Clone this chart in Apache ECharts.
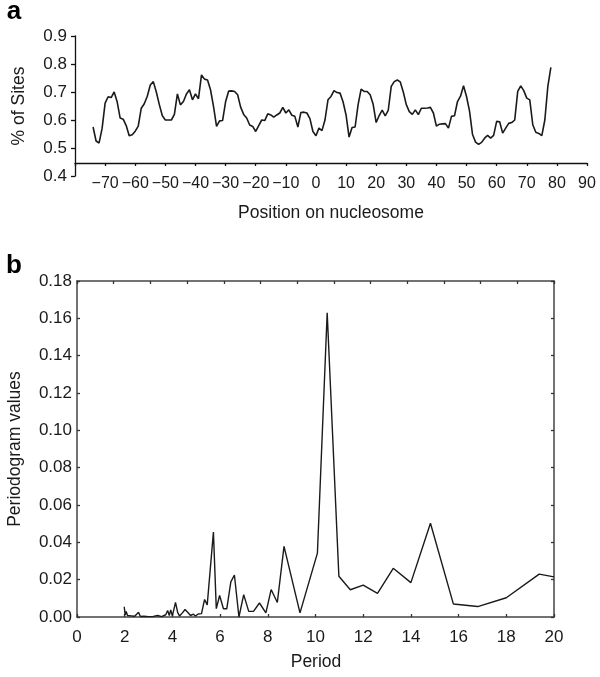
<!DOCTYPE html>
<html><head><meta charset="utf-8">
<script src="https://cdn.jsdelivr.net/npm/echarts@6/dist/echarts.min.js"></script>
<style>html,body{margin:0;padding:0;background:#fff}#c{width:600px;height:677px}</style>
</head><body><div id="c"></div>
<script>
// Panel a: position on nucleosome vs % of sites
const positions = [-74,-73,-72,-71,-70,-69,-68,-67,-66,-65,-64,-63,-62,-61,-60,-59,-58,-57,-56,-55,-54,-53,-52,-51,-50,-49,-48,-47,-46,-45,-44,-43,-42,-41,-40,-39,-38,-37,-36,-35,-34,-33,-32,-31,-30,-29,-28,-27,-26,-25,-24,-23,-22,-21,-20,-19,-18,-17,-16,-15,-14,-13,-12,-11,-10,-9,-8,-7,-6,-5,-4,-3,-2,-1,0,1,2,3,4,5,6,7,8,9,10,11,12,13,14,15,16,17,18,19,20,21,22,23,24,25,26,27,28,29,30,31,32,33,34,35,36,37,38,39,40,41,42,43,44,45,46,47,48,49,50,51,52,53,54,55,56,57,58,59,60,61,62,63,64,65,66,67,68,69,70,71,72,73,74,75,76,77,78];
const sitesPct = [0.575,0.525,0.518,0.570,0.660,0.683,0.680,0.700,0.665,0.607,0.603,0.580,0.544,0.547,0.560,0.578,0.642,0.658,0.685,0.725,0.737,0.700,0.655,0.615,0.600,0.600,0.600,0.620,0.693,0.654,0.666,0.693,0.708,0.672,0.693,0.676,0.761,0.746,0.743,0.708,0.648,0.577,0.597,0.598,0.665,0.703,0.704,0.702,0.690,0.646,0.620,0.607,0.582,0.577,0.559,0.580,0.600,0.598,0.622,0.618,0.610,0.618,0.625,0.645,0.625,0.636,0.617,0.613,0.575,0.627,0.628,0.625,0.605,0.559,0.544,0.571,0.562,0.600,0.672,0.684,0.705,0.698,0.696,0.665,0.618,0.539,0.573,0.575,0.655,0.710,0.702,0.702,0.690,0.656,0.591,0.616,0.635,0.615,0.634,0.720,0.737,0.743,0.736,0.700,0.655,0.630,0.620,0.636,0.619,0.642,0.642,0.643,0.645,0.625,0.578,0.585,0.586,0.587,0.571,0.613,0.615,0.666,0.685,0.722,0.684,0.632,0.548,0.521,0.513,0.520,0.535,0.545,0.535,0.545,0.595,0.594,0.553,0.571,0.588,0.591,0.600,0.702,0.722,0.705,0.678,0.672,0.583,0.556,0.552,0.544,0.600,0.720,0.788];

// Panel b: periodogram
const periods = [1.98,2.02,2.06,2.12,2.2,2.27,2.34,2.42,2.5,2.58,2.66,2.8,3.0,3.2,3.38,3.55,3.72,3.8,3.87,3.93,4.0,4.06,4.13,4.22,4.3,4.42,4.53,4.64,4.76,4.88,4.97,5.08,5.22,5.35,5.46,5.72,5.84,5.98,6.14,6.28,6.45,6.6,6.79,6.99,7.2,7.4,7.65,7.92,8.14,8.4,8.68,9.35,10.08,10.49,10.98,11.46,12.0,12.6,13.26,14.0,14.82,15.78,16.8,18.0,19.38,20.0];
const periodogram = [0.0055,0.001,0.003,0.0008,0.0018,0.0006,0.0015,0.0004,0.0008,0.0025,0.0003,0.0004,0.0002,0.0003,0.0008,0.0002,0.0012,0.0035,0.0008,0.0038,0.0006,0.0015,0.0078,0.0025,0.0005,0.0022,0.004,0.0025,0.0008,0.0015,0.0005,0.0016,0.0018,0.0094,0.0065,0.0455,0.0045,0.0115,0.0044,0.0044,0.0188,0.0225,0.0,0.012,0.003,0.003,0.0075,0.0022,0.0147,0.0078,0.0378,0.0022,0.0342,0.163,0.0218,0.0146,0.0171,0.0127,0.0261,0.0184,0.0502,0.007,0.0056,0.0103,0.023,0.0215];

const FONT = 'Liberation Sans, Arial, sans-serif';
const TXT = '#1a1a1a';
const chart = echarts.init(document.getElementById('c'), null, {renderer: 'canvas'});
const lab = (extra) => Object.assign({color: TXT, fontSize: 16, fontFamily: FONT, showMinLabel: true, showMaxLabel: true}, extra);
const frameLine = {show: true, onZero: false, lineStyle: {color: '#444', width: 1.5}};
const frameTick = {show: true, inside: true, length: 3, lineStyle: {color: '#333', width: 1.3}};

chart.setOption({
  animation: false,
  backgroundColor: '#fff',
  grid: [
    {left: 75, top: 36, width: 512, height: 140},
    {left: 75, top: 162, width: 512, height: 1},
    {left: 77, top: 281, width: 477, height: 336}
  ],
  xAxis: [
    {gridIndex: 0, type: 'value', min: -80, max: 90, show: false},
    {gridIndex: 1, type: 'value', min: -80, max: 90, interval: 10,
      axisLine: {show: true, onZero: false, lineStyle: {color: '#111', width: 1.3}},
      axisTick: {show: true, inside: false, length: 3, lineStyle: {color: '#111', width: 1.3}},
      splitLine: {show: false},
      axisLabel: lab({margin: 13, formatter: v => v === -80 ? '' : String(v).replace('-', '\u2212')})},
    {gridIndex: 2, type: 'value', min: 0, max: 20, interval: 2, position: 'bottom',
      axisLine: frameLine, axisTick: frameTick, splitLine: {show: false},
      axisLabel: lab({margin: 12, fontSize: 17})},
    {gridIndex: 2, type: 'value', min: 0, max: 13, interval: 1, position: 'top',
      axisLine: frameLine, axisTick: frameTick, splitLine: {show: false},
      axisLabel: {show: false}}
  ],
  yAxis: [
    {gridIndex: 0, type: 'value', min: 0.4, max: 0.9, interval: 0.1,
      axisLine: {show: true, onZero: false, lineStyle: {color: '#111', width: 1.3}},
      axisTick: {show: true, inside: false, length: 4, lineStyle: {color: '#111', width: 1.3}},
      splitLine: {show: false},
      axisLabel: lab({margin: 8, fontSize: 17, formatter: v => v.toFixed(1)})},
    {gridIndex: 1, type: 'value', min: 0, max: 1, show: false},
    {gridIndex: 2, type: 'value', min: 0, max: 0.18, interval: 0.02, position: 'left',
      axisLine: frameLine, axisTick: frameTick, splitLine: {show: false},
      axisLabel: lab({margin: 5, fontSize: 17, formatter: v => v.toFixed(2)})},
    {gridIndex: 2, type: 'value', min: 0, max: 0.18, interval: 0.02, position: 'right',
      axisLine: frameLine, axisTick: frameTick, splitLine: {show: false},
      axisLabel: {show: false}}
  ],
  series: [
    {type: 'line', xAxisIndex: 0, yAxisIndex: 0, symbol: 'none', silent: true,
      lineStyle: {color: '#1a1a1a', width: 1.6},
      data: positions.map((p, i) => [p, sitesPct[i]])},
    {type: 'line', xAxisIndex: 2, yAxisIndex: 2, symbol: 'none', silent: true,
      lineStyle: {color: '#1a1a1a', width: 1.4},
      data: periods.map((p, i) => [p, periodogram[i]])}
  ],
  graphic: [
    {type: 'text', x: 14, y: 12, style: {text: 'a', font: 'bold 26px ' + FONT, fill: '#000', align: 'center', verticalAlign: 'middle'}},
    {type: 'text', x: 14, y: 266, style: {text: 'b', font: 'bold 26px ' + FONT, fill: '#000', align: 'center', verticalAlign: 'middle'}},
    {type: 'text', x: 331, y: 213, style: {text: 'Position on nucleosome', font: '17.5px ' + FONT, fill: TXT, align: 'center', verticalAlign: 'middle'}},
    {type: 'text', x: 19, y: 106, rotation: Math.PI / 2, style: {text: '% of Sites', font: '17.5px ' + FONT, fill: TXT, align: 'center', verticalAlign: 'middle'}},
    {type: 'text', x: 316, y: 662, style: {text: 'Period', font: '17.5px ' + FONT, fill: TXT, align: 'center', verticalAlign: 'middle'}},
    {type: 'text', x: 15, y: 449, rotation: Math.PI / 2, style: {text: 'Periodogram values', font: '17.5px ' + FONT, fill: TXT, align: 'center', verticalAlign: 'middle'}}
  ]
});
</script>
</body></html>
